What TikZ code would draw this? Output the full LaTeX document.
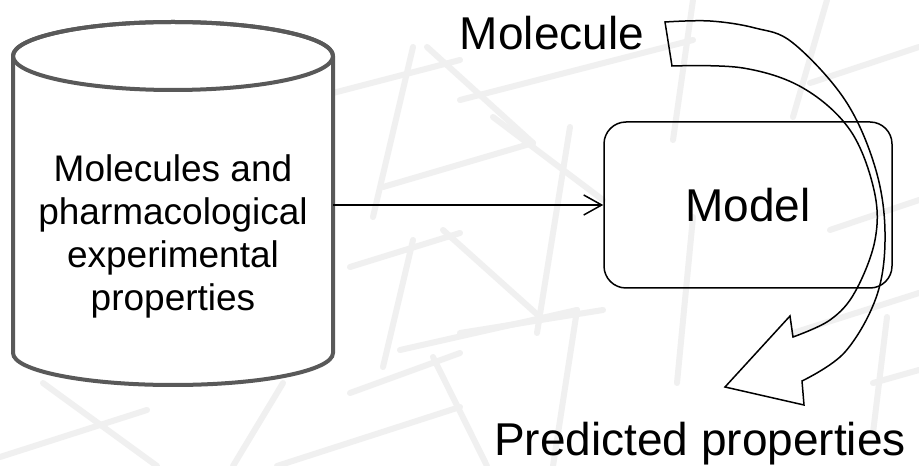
\documentclass[tikz,border=0pt]{standalone}
\usepackage{fontspec}
\setmainfont{Liberation Sans}
\usetikzlibrary{arrows.meta}
\definecolor{bgline}{HTML}{F0F0F0}
\definecolor{cylgray}{HTML}{595959}
\tikzset{
  bgstroke/.style={draw=bgline, line width=6pt, line cap=round},
  cylstroke/.style={draw=cylgray, line width=4pt, line join=round},
  modelbox/.style={draw=black, line width=1.5pt, rounded corners=22pt,
    minimum width=288pt, minimum height=166pt, inner sep=0pt,
    font=\fontsize{46}{55}\selectfont},
  bigtext/.style={font=\fontsize{46}{55}\selectfont, inner sep=0pt},
  dbtext/.style={font=\fontsize{37}{43}\selectfont, align=center, inner sep=0pt},
  flow/.style={draw=black, line width=1.5pt, -{Straight Barb[length=18pt,width=20pt]}},
  bendarrow/.style={draw=black, line width=1.5pt, line join=miter}
}
\begin{document}
\begin{tikzpicture}[x=1pt,y=1pt]
\useasboundingbox (0,0) rectangle (919,466);
\fill[white] (0,0) rectangle (919,466);

% faint background lattice
\begin{scope}
\clip (0,0) rectangle (919,466);
\foreach \a/\b/\c/\d in {
  333/373/460/406, 413/419/373/249, 350/199/460/233, 413/226/383/99,
  43/83/157/0, 0/9/147/56, 233/0/283/83, 350/73/460/113,
  277/0/460/59, 460/366/693/426, 693/466/673/326, 827/466/793/349,
  810/383/919/419, 493/349/603/266, 570/339/537/133, 460/133/603/156,
  693/249/677/83, 793/133/919/173, 427/419/533/323, 383/279/533/323,
  400/116/577/156, 577/156/553/0, 433/109/487/0, 443/236/540/149,
  830/236/919/266, 873/83/919/96, 887/149/873/33}
  \draw[bgstroke] (\a,\b) -- (\c,\d);
\end{scope}

% database cylinder
\path[cylstroke, fill=white]
  (13,410) -- (13,113)
  arc[start angle=180, end angle=360, x radius=160, y radius=32]
  -- (333,410)
  arc[start angle=0, end angle=180, x radius=160, y radius=34] -- cycle;
\draw[cylstroke] (173,410) ellipse[x radius=160, y radius=34];
\node[dbtext] (dbtxt) at (173,230)
  {Molecules and\\pharmacological\\experimental\\properties};
\coordinate (dbE) at (333,261);

% model
\node[modelbox] (model) at (748,261) {Model};
\draw[flow] (dbE) -- (model.west);

% input / output labels
\node[bigtext, anchor=base] (mol) at (552,416) {Molecule};
\node[bigtext, anchor=base] (pred) at (700,10) {Predicted properties};

% curved block arrow from the molecule, past the model, to the prediction
\path[bendarrow]
  plot[smooth, tension=0.6] coordinates {(665,444) (710,445) (755,438) (793,423)
     (845,366) (875,299) (885,234) (877,171) (845,114) (802,85)}
  -- (804,61) -- (725,79) -- (790,150) -- (793,129)
  -- plot[smooth, tension=0.6] coordinates {(793,129) (830,146) (855,174) (875,226)
     (874,276) (850,336) (803,378) (743,398) (672,400)}
  -- cycle;
\end{tikzpicture}
\end{document}
